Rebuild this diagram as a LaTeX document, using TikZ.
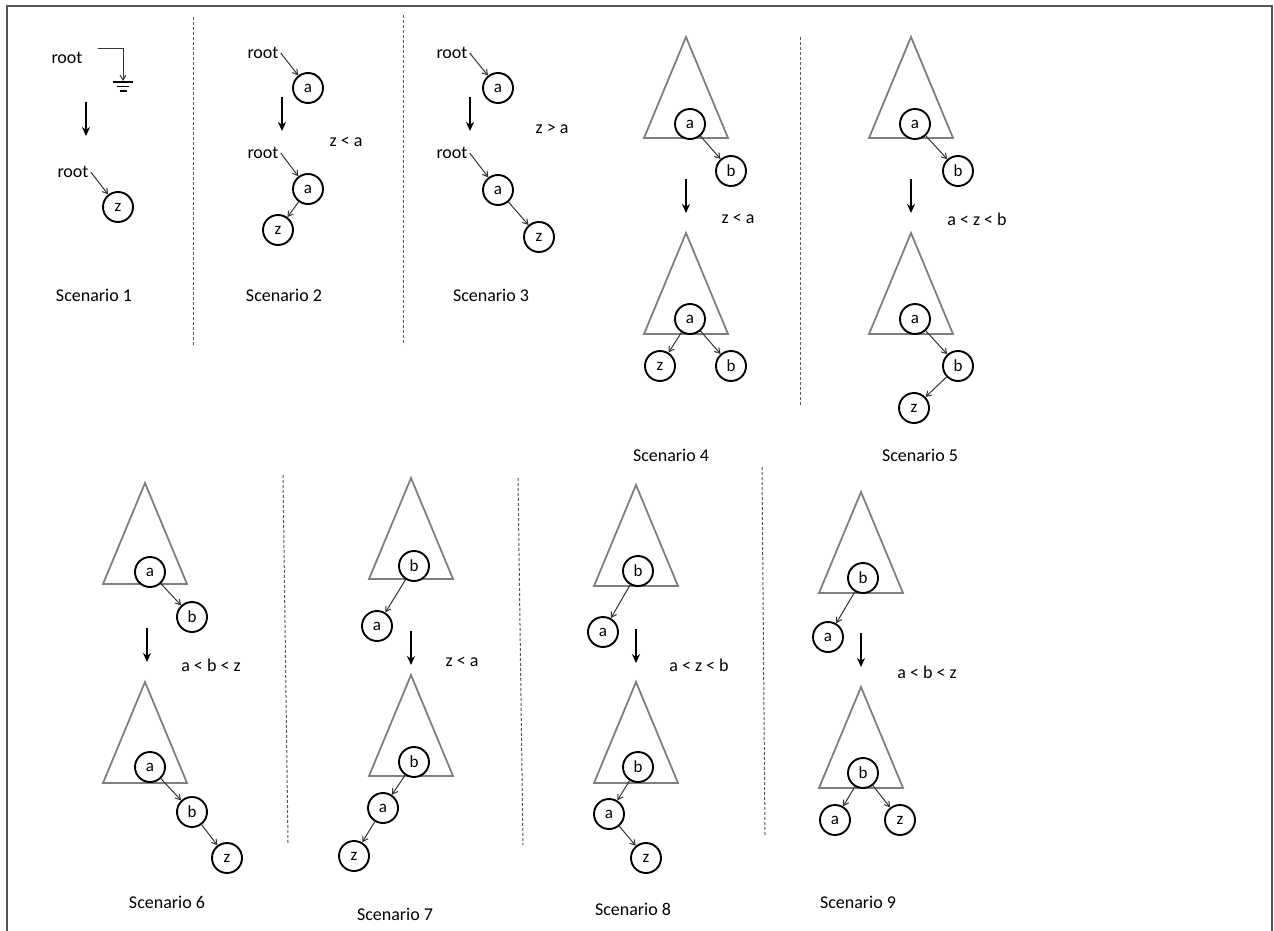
\documentclass[tikz,border=0pt]{standalone}
\usepackage{fontspec}
\setmainfont{Carlito}
\usetikzlibrary{arrows.meta, positioning}
\definecolor{treeGray}{HTML}{7F7F7F}
\definecolor{edgeGray}{HTML}{333333}
\definecolor{frameGray}{HTML}{555555}
% subtree drawn from its apex
\newcommand{\subtree}[1]{\draw[subtree] (#1) -- ++(-42,101) -- ++(84,0) -- cycle;}

\begin{document}
\begin{tikzpicture}[
    x=1pt, y=-1pt,
    vert/.style={circle, draw, line width=1.9pt, fill=white,
      minimum size=30pt, inner sep=0pt, font=\fontsize{17}{17}\selectfont},
    rootlbl/.style={font=\fontsize{18}{20}\selectfont, inner sep=2pt},
    cond/.style={font=\fontsize{18}{20}\selectfont},
    caption/.style={font=\fontsize{18}{20}\selectfont},
    edge/.style={draw=edgeGray, line width=1pt,
      -{Straight Barb[length=5pt, width=6pt]}},
    bigarrow/.style={line width=2pt, -{Stealth[length=9pt, width=8pt]}},
    sep/.style={draw=frameGray, dash pattern=on 3pt off 2pt, line width=1pt},
    subtree/.style={draw=treeGray, line width=1.8pt},
    ground/.style={line width=1.6pt}
  ]
  \useasboundingbox (0,0) rectangle (1274,931);
  \draw[frameGray, line width=1.2pt] (7,931) -- (7,6) -- (1272,6) -- (1272,931);

  % separators
  \foreach \xa/\ya/\xb/\yb in {193/17/193/345, 403/15/403/345, 800/37/800/405,
      283/475/288/843, 518/478/523/845, 762/467/765/835}
    \draw[sep] (\xa,\ya) -- (\xb,\yb);

  % transition arrows
  \foreach \x/\y in {86/102, 282/97, 470/97, 686/179, 911/179,
      147/628, 411/631, 636/629, 861/633}
    \draw[bigarrow] (\x,\y) -- ++(0,34);

  % subtrees
  \subtree{686,37} \subtree{686,233}
  \subtree{911,37} \subtree{911,233}
  \subtree{145,483} \subtree{145,682}
  \subtree{411,478} \subtree{411,675}
  \subtree{636,485} \subtree{636,682}
  \subtree{861,492} \subtree{861,687}

  % scenario 1
  \node[rootlbl] (s1r) at (67,58) {root};
  \coordinate (s1g) at (123,81);
  \draw[edge] ([xshift=13pt, yshift=9pt]s1r.east) -| (s1g);
  \foreach \w/\dy in {10/1, 6/5.5, 3.5/10}
    \draw[ground] (s1g) ++(-\w,\dy) -- ++(2*\w,0);
  \node[rootlbl] (s1r2) at (73,172) {root};
  \node[vert] (s1z) at (118,207) {z};
  \draw[edge] (s1r2.east) -- (s1z);
  \node[caption] (c1) at (94,295) {Scenario 1};

  % scenario 2
  \node[rootlbl] (s2r) at (263,53) {root};
  \node[vert] (s2a) at (308,88) {a};
  \draw[edge] (s2r.east) -- (s2a);
  \node[cond] (k2) at (346,142) {z < a};
  \node[rootlbl] (s2r2) at (263,153) {root};
  \node[vert] (s2a2) at (308,189) {a};
  \node[vert] (s2z) at (278,230) {z};
  \draw[edge] (s2r2.east) -- (s2a2);
  \draw[edge] (s2a2) -- (s2z);
  \node[caption] (c2) at (284,295) {Scenario 2};

  % scenario 3
  \node[rootlbl] (s3r) at (452,53) {root};
  \node[vert] (s3a) at (498,88) {a};
  \draw[edge] (s3r.east) -- (s3a);
  \node[cond] (k3) at (552,129) {z > a};
  \node[rootlbl] (s3r2) at (452,153) {root};
  \node[vert] (s3a2) at (498,190) {a};
  \node[vert] (s3z) at (539,237) {z};
  \draw[edge] (s3r2.east) -- (s3a2);
  \draw[edge] (s3a2) -- (s3z);
  \node[caption] (c3) at (491,295) {Scenario 3};

  % scenario 4
  \node[vert] (s4a) at (690,124) {a};
  \node[vert] (s4b) at (731,171) {b};
  \draw[edge] (s4a) -- (s4b);
  \node[cond] (k4) at (738,219) {z < a};
  \node[vert] (s4a2) at (690,319) {a};
  \node[vert] (s4z) at (660,366) {z};
  \node[vert] (s4b2) at (731,366) {b};
  \draw[edge] (s4a2) -- (s4z);
  \draw[edge] (s4a2) -- (s4b2);
  \node[caption] (c4) at (671,455) {Scenario 4};

  % scenario 5
  \node[vert] (s5a) at (915,124) {a};
  \node[vert] (s5b) at (958,171) {b};
  \draw[edge] (s5a) -- (s5b);
  \node[cond] (k5) at (977,219) {a < z < b};
  \node[vert] (s5a2) at (915,319) {a};
  \node[vert] (s5b2) at (958,366) {b};
  \node[vert] (s5z) at (914,408) {z};
  \draw[edge] (s5a2) -- (s5b2);
  \draw[edge] (s5b2) -- (s5z);
  \node[caption] (c5) at (920,455) {Scenario 5};

  % scenario 6
  \node[vert] (s6a) at (150,572) {a};
  \node[vert] (s6b) at (192,617) {b};
  \draw[edge] (s6a) -- (s6b);
  \node[cond] (k6) at (211,665) {a < b < z};
  \node[vert] (s6a2) at (150,767) {a};
  \node[vert] (s6b2) at (192,812) {b};
  \node[vert] (s6z) at (227,858) {z};
  \draw[edge] (s6a2) -- (s6b2);
  \draw[edge] (s6b2) -- (s6z);
  \node[caption] (c6) at (167,902) {Scenario 6};

  % scenario 7
  \node[vert] (s7b) at (414,566) {b};
  \node[vert] (s7a) at (377,626) {a};
  \draw[edge] (s7b) -- (s7a);
  \node[cond] (k7) at (462,662) {z < a};
  \node[vert] (s7b2) at (414,762) {b};
  \node[vert] (s7a2) at (383,808) {a};
  \node[vert] (s7z) at (354,856) {z};
  \draw[edge] (s7b2) -- (s7a2);
  \draw[edge] (s7a2) -- (s7z);
  \node[caption] (c7) at (395,914) {Scenario 7};

  % scenario 8
  \node[vert] (s8b) at (638,571) {b};
  \node[vert] (s8a) at (603,632) {a};
  \draw[edge] (s8b) -- (s8a);
  \node[cond] (k8) at (699,665) {a < z < b};
  \node[vert] (s8b2) at (638,767) {b};
  \node[vert] (s8a2) at (609,814) {a};
  \node[vert] (s8z) at (646,858) {z};
  \draw[edge] (s8b2) -- (s8a2);
  \draw[edge] (s8a2) -- (s8z);
  \node[caption] (c8) at (633,909) {Scenario 8};

  % scenario 9
  \node[vert] (s9b) at (863,578) {b};
  \node[vert] (s9a) at (828,637) {a};
  \draw[edge] (s9b) -- (s9a);
  \node[cond] (k9) at (927,672) {a < b < z};
  \node[vert] (s9b2) at (863,773) {b};
  \node[vert] (s9a2) at (835,820) {a};
  \node[vert] (s9z) at (900,820) {z};
  \draw[edge] (s9b2) -- (s9a2);
  \draw[edge] (s9b2) -- (s9z);
  \node[caption] (c9) at (858,902) {Scenario 9};
\end{tikzpicture}
\end{document}
